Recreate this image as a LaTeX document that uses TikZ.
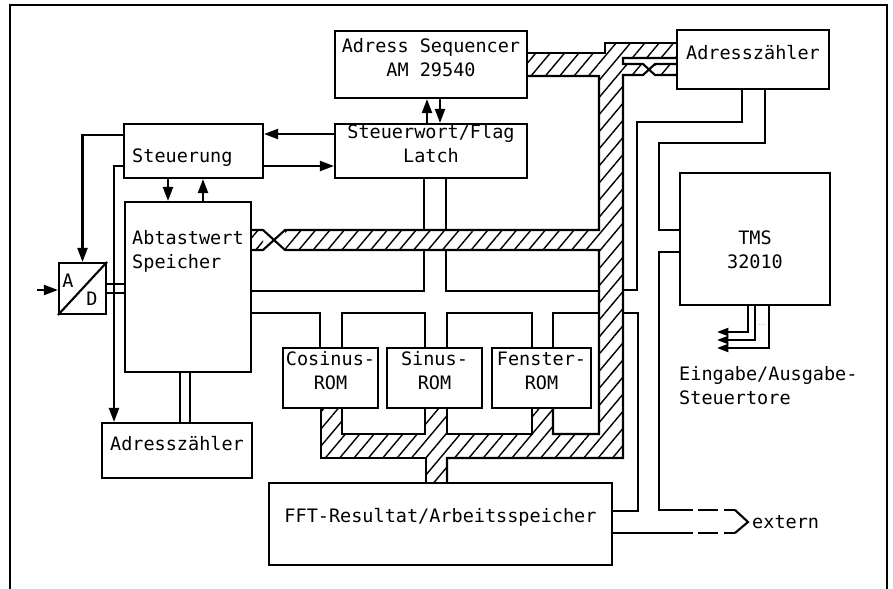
\documentclass[tikz,border=0pt]{standalone}
\usepackage{fontspec}
\setmonofont{DejaVu Sans Mono}
\usetikzlibrary{arrows.meta, fit, patterns.meta}

\newcommand{\boxfont}{\ttfamily\fontsize{15.8}{20.5}\selectfont}

\tikzset{
  box/.style={draw, line width=1.8pt, inner sep=0pt, font=\boxfont, align=center},
  txt/.style={inner sep=0pt, font=\boxfont, align=left},
  wire/.style={line width=1.8pt, line join=miter},
  arr/.style={wire, -{Triangle[length=4.2mm, width=3mm]}},
  hatch/.style={pattern={Lines[angle=50, distance=3.3mm, line width=1.2pt]}},
}

\begin{document}
\begin{tikzpicture}[x=0.3mm, y=-0.3mm]
  \useasboundingbox (0,0) rectangle (893,589);
  % frame
  \draw[line width=1.4pt] (10,589) -- (10,5) -- (887,5) -- (887,589);

  % blocks
  \node[box, fit={(335,31) (527,98)}] (seq) {Adress Sequencer\\AM 29540};
  \node[box, fit={(335,124) (527,178)}] (latch) {Steuerwort/Flag\\Latch};
  \node[box, fit={(124,124) (263,178)}] (steu) {};
  \node[txt, anchor=base west] (steu-t) at (132,162) {Steuerung};
  \node[box, fit={(125,202) (251,372)}] (abt) {};
  \node[txt, anchor=west] (abt-t) at (132,251) {Abtastwert\\Speicher};
  \node[box, fit={(59,263) (106,314)}] (ad) {};
  \draw[wire] (ad.south west) -- (ad.north east);
  \node[txt] (ad-a) at (68,281) {A};
  \node[txt] (ad-d) at (92,299) {D};
  \node[box, fit={(102,423) (252,478)}] (adrL) {Adressz\"ahler};
  \node[box, fit={(283,348) (378,408)}] (cos) {Cosinus-\\ROM};
  \node[box, fit={(387,348) (482,408)}] (sin) {Sinus-\\ROM};
  \node[box, fit={(492,348) (591,408)}] (fen) {Fenster-\\ROM};
  \node[box, fit={(269,483) (612,565)}] (fft) {FFT-Resultat/Arbeitsspeicher};
  \node[box, fit={(677,30) (829,89)}] (adrR) {Adressz\"ahler};
  \node[box, fit={(680,173) (830,305)}] (tms) {};
  \node[txt, align=center] (tms-t) at ([yshift=-3.3mm]tms.center) {TMS\\32010};
  \node[txt, anchor=west] (io-t) at (679,386) {Eingabe/Ausgabe-\\Steuertore};
  \node[txt, anchor=base west] (ext) at (752,528) {extern};
  \coordinate (in) at (37,290);

  % hatched bus
  \fill[hatch]
    (527,53) rectangle (599,76)
    (599,53) rectangle (623,458)
    (605,43) rectangle (677,58)
    (623,64) rectangle (643,75)
    (655,64) rectangle (677,75)
    (251,230) rectangle (263,250)
    (285,230) rectangle (599,250)
    (321,408) rectangle (342,458)
    (342,434) rectangle (623,458)
    (425,408) rectangle (447,434)
    (532,408) rectangle (553,434)
    (426,458) rectangle (447,483);
  \draw[wire] (seq.east |- 0,53) -- (605,53) -- (605,43) -- (adrR.west |- 0,43);
  \draw[wire] (adrR.west |- 0,58) -- (623,58) -- (623,64) -- (643,64) -- (655,75) -- (adrR.west |- 0,75);
  \draw[wire] (seq.east |- 0,76) -- (599,76) -- (599,230) -- (285,230) -- (263,250) -- (abt.east |- 0,250);
  \draw[wire] (abt.east |- 0,230) -- (263,230) -- (285,250) -- (599,250) -- (599,434) -- (553,434) -- (fen.south -| 553,0);
  \draw[wire] (fen.south -| 532,0) -- (532,434) -- (447,434) -- (sin.south -| 447,0);
  \draw[wire] (sin.south -| 425,0) -- (425,434) -- (342,434) -- (cos.south -| 342,0);
  \draw[wire] (cos.south -| 321,0) -- (321,458) -- (426,458) -- (fft.north -| 426,0);
  \draw[wire] (fft.north -| 447,0) -- (447,458) -- (623,458) -- (623,75) -- (643,75) -- (655,64) -- (adrR.west |- 0,64);

  % plain buses
  \draw[wire] (latch.south -| 424,0) -- (424,230);
  \draw[wire] (latch.south -| 446,0) -- (446,230);
  \draw[wire] (abt.east |- 0,291) -- (424,291) -- (424,250);
  \draw[wire] (446,250) -- (446,291) -- (599,291);
  \draw[wire] (abt.east |- 0,313) -- (320,313) -- (cos.north -| 320,0);
  \draw[wire] (cos.north -| 342,0) -- (342,313) -- (425,313) -- (sin.north -| 425,0);
  \draw[wire] (sin.north -| 447,0) -- (447,313) -- (532,313) -- (fen.north -| 532,0);
  \draw[wire] (fen.north -| 553,0) -- (553,313) -- (599,313);
  \draw[wire] (abt.south -| 180,0) -- (adrL.north -| 180,0);
  \draw[wire] (abt.south -| 190,0) -- (adrL.north -| 190,0);
  \draw[wire] (ad.east |- 0,284) -- (abt.west |- 0,284);
  \draw[wire] (ad.east |- 0,293) -- (abt.west |- 0,293);

  % control lines
  \draw[arr] (latch.west |- 0,134) -- (steu.east |- 0,134);
  \draw[arr] (steu.east |- 0,166) -- (latch.west |- 0,166);
  \draw[arr] (steu.south -| 168,0) -- (abt.north -| 168,0);
  \draw[arr] (abt.north -| 203,0) -- (steu.south -| 203,0);
  \draw[arr] (latch.north -| 427,0) -- (seq.south -| 427,0);
  \draw[arr] (seq.south -| 440,0) -- (latch.north -| 440,0);
  \draw[arr] (steu.west |- 0,135) -| (ad.north);
  \draw[arr] (steu.west |- 0,166) -| (adrL.north -| 114,0);
  \draw[arr] (in) -- (in -| ad.west);

  % Adresszaehler, TMS, extern
  \draw[wire] (adrR.south -| 742,0) -- (742,122) -- (637,122) -- (637,290) -- (623,290);
  \draw[wire] (adrR.south -| 765,0) -- (765,143) -- (659,143) -- (659,230) -- (tms.west |- 0,230);
  \draw[wire] (623,313) -- (638,313) -- (638,511) -- (fft.east |- 0,511);
  \draw[wire] (tms.west |- 0,252) -- (659,252) -- (659,510) -- (673,510);
  \draw[wire] (fft.east |- 0,533) -- (673,533);
  \draw[wire, dash pattern=on 6mm off 1.6mm] (673,510) -- (735,510);
  \draw[wire, dash pattern=on 6mm off 1.6mm] (673,533) -- (735,533);
  \draw[wire] (735,510) -- (748,522) -- (735,533);
  \foreach \x/\y in {748/332, 755/340, 769/348}
    \draw[wire, -{Triangle[length=3.4mm, width=2.4mm]}] (tms.south -| \x,0) |- (717,\y);
  \node[inner sep=0pt, font=\tiny] (dots) at (762,325) {...};
\end{tikzpicture}
\end{document}
